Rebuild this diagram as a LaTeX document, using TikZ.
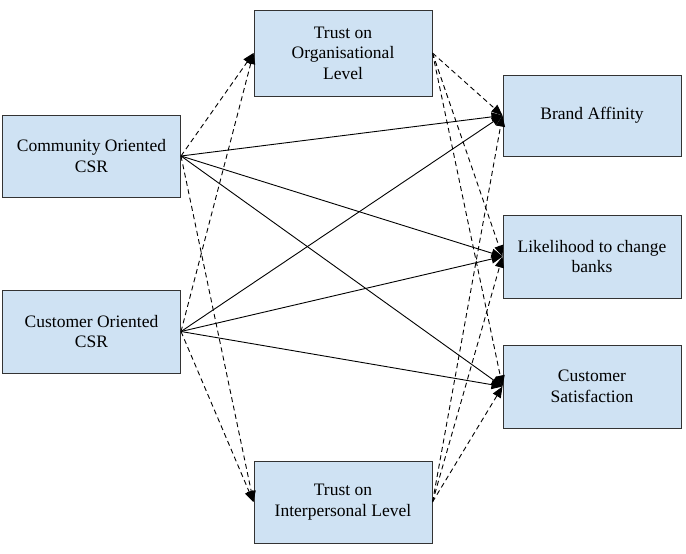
\documentclass[tikz,border=0pt]{standalone}
\usepackage{fontspec}
\setmainfont{Liberation Serif}
\newfontfamily\boxfont{Liberation Serif}
\usetikzlibrary{arrows.meta}
\definecolor{boxfill}{HTML}{CFE2F3}
\definecolor{boxline}{HTML}{333333}
\begin{document}
\begin{tikzpicture}[x=1pt,y=-1pt,
  box/.style={draw=boxline,fill=boxfill,line width=1pt,minimum width=178pt,minimum height=82pt,
    inner sep=0pt,align=center,font=\boxfont\fontsize{17.5}{20.5}\selectfont},
  solidarr/.style={line width=0.9pt,-{Triangle[length=11pt,width=9pt]}},
  dasharr/.style={line width=0.9pt,dash pattern=on 5pt off 3.5pt,-{Triangle[length=11pt,width=9pt]}}]
\useasboundingbox (0,0) rectangle (686,554);
\node[box,minimum height=82pt] (com) at (91.5,156) {Community Oriented\\CSR};
\node[box,minimum height=83pt] (cus) at (91.5,331.5) {Customer Oriented\\CSR};
\node[box,minimum height=86pt] (torg) at (343,53) {Trust on\\Organisational\\Level};
\node[box,minimum height=82pt] (tint) at (343,502) {Trust on\\Interpersonal Level};
\node[box,minimum height=81pt] (ba) at (592,115.5) {Brand Affinity};
\node[box,minimum height=83pt] (lik) at (592,256.5) {Likelihood to change\\banks};
\node[box,minimum height=83pt] (sat) at (592,386.5) {Customer\\Satisfaction};
% direct effects
\foreach \s in {com,cus}{
  \foreach \t in {ba,lik,sat}{
    \draw[solidarr] (\s.east) -- (\t.west);
  }
  \draw[dasharr] (\s.east) -- (torg.west);
  \draw[dasharr] (\s.east) -- (tint.west);
}
\foreach \m in {torg,tint}{
  \foreach \t in {ba,lik,sat}{
    \draw[dasharr] (\m.east) -- (\t.west);
  }
}
\end{tikzpicture}
\end{document}
